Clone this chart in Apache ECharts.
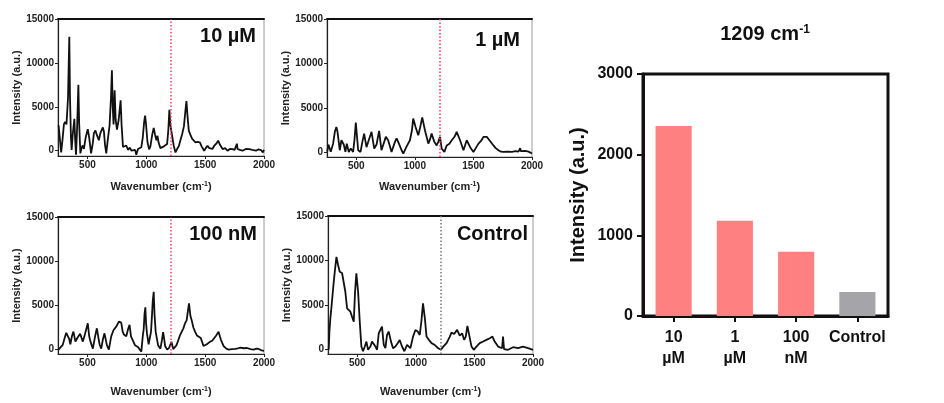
<!DOCTYPE html>
<html><head><meta charset="utf-8">
<script src="https://cdn.jsdelivr.net/npm/echarts@6/dist/echarts.min.js"></script>
<style>html,body{margin:0;padding:0;background:#fff;}#c{width:944px;height:403px;}</style>
</head><body><div id="c"></div><script>
// ---------- data ----------
const spec10uM = [[255,2900],[265,2700],[277,-200],[290,1500],[300,3000],[310,3300],[322,3000],[335,6000],[346,12970],[352,6000],[360,1500],[366,100],[375,1800],[389,3630],[396,1200],[403,-450],[412,2500],[423,7520],[430,3000],[440,-300],[450,300],[460,600],[470,200],[485,1500],[503,2460],[515,1500],[531,-300],[545,800],[555,2000],[568,2300],[580,1800],[597,1200],[610,2000],[631,2650],[640,2200],[650,600],[660,-300],[675,1500],[688,2860],[700,6000],[708,9160],[715,5000],[722,3000],[731,6870],[740,3500],[751,2400],[765,3500],[782,5730],[790,3000],[802,420],[815,300],[830,600],[845,100],[860,350],[875,0],[890,200],[905,100],[915,-450],[930,200],[945,50],[958,400],[970,1500],[982,3300],[990,4000],[998,3000],[1010,1000],[1024,150],[1035,500],[1050,1800],[1063,2600],[1075,1800],[1086,1200],[1095,1700],[1105,900],[1120,300],[1135,350],[1150,500],[1163,380],[1177,760],[1188,2500],[1196,4660],[1204,3000],[1211,2400],[1222,1500],[1233,580],[1248,-190],[1262,200],[1276,500],[1290,1200],[1305,1900],[1320,2800],[1332,4500],[1341,5650],[1350,4000],[1361,2290],[1375,1800],[1390,1340],[1405,1200],[1418,950],[1435,1000],[1455,950],[1470,500],[1492,0],[1505,300],[1520,570],[1535,300],[1548,380],[1562,200],[1577,570],[1595,800],[1611,1150],[1625,700],[1648,190],[1670,300],[1690,0],[1710,200],[1733,190],[1750,100],[1765,300],[1770,800],[1775,200],[1795,100],[1818,0],[1845,200],[1875,190],[1900,100],[1932,0],[1950,150],[1975,80],[1990,-190],[2000,100]];
const spec1uM = [[252,100],[262,900],[270,1000],[282,100],[302,1000],[318,2400],[330,2880],[340,2300],[359,260],[373,1380],[393,900],[407,70],[419,1000],[436,70],[453,450],[473,70],[485,1500],[496,3370],[506,1800],[516,260],[536,70],[552,1200],[567,2130],[587,600],[607,1400],[630,2320],[653,450],[673,900],[695,2440],[715,260],[729,70],[752,1760],[772,1380],[801,70],[830,1200],[844,1600],[864,1000],[887,260],[901,-120],[930,700],[958,1380],[975,2500],[986,3820],[1006,2880],[1029,1950],[1045,2800],[1063,3950],[1086,2500],[1115,1010],[1130,1500],[1143,2130],[1166,1200],[1186,800],[1200,1200],[1215,1760],[1229,450],[1252,70],[1272,800],[1295,1000],[1315,1380],[1340,1800],[1357,2320],[1386,1380],[1415,260],[1443,1380],[1472,600],[1500,70],[1520,500],[1543,1000],[1565,1300],[1586,1760],[1600,1600],[1614,1760],[1630,1500],[1643,1380],[1671,800],[1690,500],[1714,260],[1735,100],[1757,70],[1790,100],[1828,70],[1860,150],[1885,100],[1899,500],[1905,150],[1942,180],[1970,100],[2000,-100]];
const spec100nM = [[255,0],[267,-100],[290,530],[304,1200],[320,1900],[333,2030],[345,1200],[355,600],[368,1500],[381,2030],[398,900],[418,1400],[438,1800],[461,900],[480,1800],[503,2980],[515,1500],[526,900],[546,100],[565,1500],[580,2410],[595,1200],[603,600],[617,100],[632,1200],[645,1840],[665,500],[682,0],[702,1500],[722,2220],[745,2600],[767,3160],[787,3050],[800,2000],[810,1700],[830,1500],[845,2300],[858,2800],[870,1500],[881,1300],[904,500],[929,300],[958,-230],[970,1500],[978,2300],[985,4000],[992,4780],[998,3000],[1006,1800],[1020,600],[1029,500],[1040,2000],[1046,3300],[1055,5500],[1063,6540],[1070,4000],[1080,2000],[1100,500],[1120,100],[1132,1000],[1143,1960],[1152,1200],[1160,400],[1177,0],[1194,200],[1214,890],[1229,50],[1257,500],[1286,1600],[1315,2400],[1330,3000],[1343,3300],[1355,4500],[1363,5230],[1375,3800],[1386,3300],[1400,2500],[1415,2000],[1430,1600],[1443,1700],[1463,1300],[1486,400],[1500,300],[1514,600],[1530,800],[1543,900],[1560,1000],[1571,1100],[1594,1600],[1614,2030],[1625,1500],[1634,1100],[1657,400],[1680,100],[1699,0],[1730,50],[1756,70],[1780,150],[1799,230],[1830,150],[1856,180],[1885,50],[1913,0],[1935,100],[1956,70],[1980,-100],[2000,-150]];
const specControl = [[256,-20],[262,2000],[270,3500],[276,4250],[299,7610],[310,9000],[322,10410],[336,9500],[350,8740],[370,8600],[384,8740],[398,6490],[413,4620],[427,4400],[441,4250],[455,3700],[470,3140],[481,6490],[492,8550],[507,6490],[521,3140],[535,340],[549,-190],[564,340],[578,890],[592,-20],[612,340],[626,890],[640,710],[655,340],[669,-20],[683,1830],[697,2020],[711,2580],[726,520],[740,150],[754,1640],[768,2020],[788,890],[805,150],[825,340],[845,710],[862,1070],[882,340],[902,-190],[925,520],[939,710],[953,150],[976,1450],[996,2200],[1016,2020],[1033,1640],[1047,3140],[1061,5190],[1077,3500],[1091,1460],[1111,1090],[1134,720],[1162,500],[1191,150],[1214,-30],[1234,330],[1262,720],[1290,1460],[1304,1900],[1327,1750],[1352,2210],[1375,1550],[1395,1830],[1412,1090],[1426,1460],[1440,2650],[1455,1640],[1475,330],[1494,-30],[1517,330],[1545,720],[1574,900],[1602,1090],[1631,1270],[1654,1460],[1673,900],[1702,330],[1736,150],[1744,1460],[1753,40],[1787,-30],[1830,260],[1872,150],[1915,330],[1958,150],[2000,-30]];
const panelLabels = ['10 µM', '1 µM', '100 nM', 'Control'];
const wnTicks = [500, 1000, 1500, 2000];
const intTicks = [0, 5000, 10000, 15000];
const markerWn = 1209;
const barCategories = ['10\nµM', '1\nµM', '100\nnM', 'Control'];
const barValues = [2355, 1181, 797, 298];
const barTicks = [0, 1000, 2000, 3000];

// ---------- layout / style ----------
const FF = 'Liberation Sans, Arial, sans-serif';
const plain = v => String(v);
const spectra = [spec10uM, spec1uM, spec100nM, specControl];
const panelLayout = [
  {grid: {left: 58, top: 19, width: 206, height: 137}, ymin: -600, xGap: 25, mark: '#ff3a5c', lab: [256, 36]},
  {grid: {left: 327, top: 19, width: 205, height: 138}, ymin: -500, xGap: 24, mark: '#ff3a5c', lab: [520, 40]},
  {grid: {left: 58, top: 217, width: 206, height: 137}, ymin: -500, xGap: 32, mark: '#ff3a5c', lab: [257, 234]},
  {grid: {left: 328, top: 216, width: 205, height: 138}, ymin: -500, xGap: 32, mark: '#777', lab: [528, 234]}
];
const barColors = ['#FF8080', '#FF8080', '#FF8080', '#A4A4A9'];
const supRich = {sup: {fontSize: 7, fontWeight: 'bold', fontFamily: FF, color: '#222', verticalAlign: 'top', padding: [0, 0, 5, 0]}};

const grid = [], xAxis = [], yAxis = [], series = [], graphic = [];
panelLayout.forEach((p, i) => {
  grid.push(Object.assign({show: true, borderColor: '#9a9a9a', borderWidth: 1, containLabel: false}, p.grid));
  xAxis.push({
    type: 'value', gridIndex: i, min: 250, max: 2000, position: 'bottom',
    axisLine: {show: true, onZero: false, lineStyle: {color: '#222', width: 1.2}},
    axisTick: {show: true, length: 3, customValues: wnTicks, lineStyle: {color: '#222', width: 1}},
    axisLabel: {customValues: wnTicks, formatter: plain, fontSize: 10, fontWeight: 'bold', color: '#222', margin: 4, fontFamily: FF},
    splitLine: {show: false},
    name: 'Wavenumber (cm{sup|-1})', nameLocation: 'middle', nameGap: p.xGap,
    nameTextStyle: {fontSize: 11, fontWeight: 'bold', color: '#222', fontFamily: FF, rich: supRich}
  });
  xAxis.push({
    type: 'value', gridIndex: i, min: 250, max: 2000, position: 'top',
    axisLine: {show: true, onZero: false, lineStyle: {color: '#111', width: 2}},
    axisTick: {show: false}, axisLabel: {show: false}, splitLine: {show: false}
  });
  yAxis.push({
    type: 'value', gridIndex: i, min: p.ymin, max: 15000,
    axisLine: {show: true, onZero: false, lineStyle: {color: '#222', width: 1.2}},
    axisTick: {show: true, length: 3, customValues: intTicks, lineStyle: {color: '#222', width: 1}},
    axisLabel: {customValues: intTicks, formatter: plain, fontSize: 10, fontWeight: 'bold', color: '#222', margin: 4, fontFamily: FF},
    splitLine: {show: false},
    name: 'Intensity (a.u.)', nameLocation: 'middle', nameGap: 34,
    nameTextStyle: {fontSize: 11, fontWeight: 'bold', color: '#222', fontFamily: FF}
  });
  series.push({
    type: 'line', xAxisIndex: 2 * i, yAxisIndex: i, data: spectra[i], showSymbol: false,
    lineStyle: {color: '#111', width: 1.8}, animation: false, z: 3,
    markLine: {silent: true, symbol: ['none', 'none'], label: {show: false}, animation: false, z: 4,
      lineStyle: {type: [1.5, 2], color: p.mark, width: 1.5}, data: [{xAxis: markerWn}]}
  });
  graphic.push({type: 'text', x: p.lab[0], y: p.lab[1],
    style: {text: panelLabels[i], align: 'right', verticalAlign: 'middle', fontSize: 20, fontWeight: 'bold', fontFamily: FF, fill: '#111'}});
});

// bar chart
const bi = panelLayout.length;
grid.push({left: 643, top: 74, width: 245, height: 242, show: true, borderColor: '#111', borderWidth: 3});
xAxis.push({
  type: 'category', gridIndex: bi, data: barCategories,
  axisLine: {show: true, lineStyle: {color: '#111', width: 3}},
  axisTick: {show: true, alignWithLabel: true, length: 6, lineStyle: {color: '#111', width: 2}},
  axisLabel: {fontSize: 16, fontWeight: 'bold', color: '#111', margin: 11, lineHeight: 21, fontFamily: FF, interval: 0}
});
yAxis.push({
  type: 'value', gridIndex: bi, min: 0, max: 3000, interval: 1000,
  axisLine: {show: true, lineStyle: {color: '#111', width: 3}},
  axisTick: {show: true, length: 6, customValues: barTicks, lineStyle: {color: '#111', width: 2}},
  axisLabel: {customValues: barTicks, formatter: plain, fontSize: 16, fontWeight: 'bold', color: '#111', margin: 10, fontFamily: FF},
  splitLine: {show: false},
  name: 'Intensity (a.u.)', nameLocation: 'middle', nameGap: 55,
  nameTextStyle: {fontSize: 20, fontWeight: 'bold', color: '#111', fontFamily: FF}
});
series.push({
  type: 'bar', xAxisIndex: xAxis.length - 1, yAxisIndex: bi, barWidth: '59%', animation: false,
  data: barValues.map((v, k) => ({value: v, itemStyle: {color: barColors[k]}}))
});
graphic.push({type: 'text', x: 765, y: 34,
  style: {text: '1209 cm{s|-1}', align: 'center', verticalAlign: 'middle', fontSize: 20, fontWeight: 'bold', fontFamily: FF, fill: '#111',
    rich: {s: {fontSize: 12, fontWeight: 'bold', fontFamily: FF, fill: '#111', verticalAlign: 'top', padding: [0, 0, 9, 0]}}}});

const chart = echarts.init(document.getElementById('c'), null, {renderer: 'canvas'});
chart.setOption({animation: false, textStyle: {fontFamily: FF}, grid, xAxis, yAxis, series, graphic});
</script></body></html>
